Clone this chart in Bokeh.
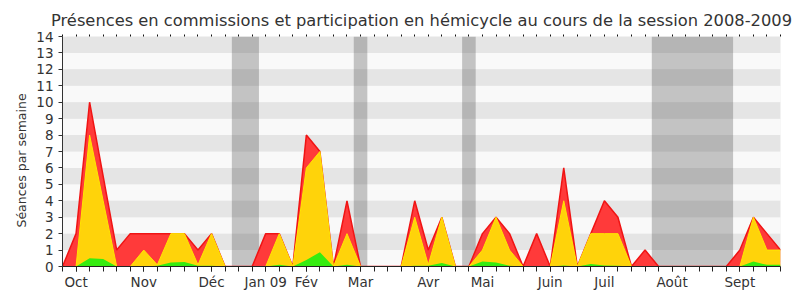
from bokeh.plotting import figure
from bokeh.models import FixedTicker, LinearAxis, BoxAnnotation, Range1d, Title
from bokeh.embed import file_html
from bokeh.resources import INLINE

# ---- data (weekly values, session 2008-2009) ----
weeks = list(range(54))
red = [0, 2, 10, 5.5, 1, 2, 2, 2, 2, 2, 1, 2, 0, 0, 0, 2, 2, 0, 8, 7,
       0, 4, 0, 0, 0, 0, 4, 1, 3, 0, 0, 2, 3, 2, 0, 2, 0, 6, 0, 2,
       4, 3, 0, 1, 0, 0, 0, 0, 0, 0, 1, 3, 2, 1]
yellow = [0, 0, 8, 4, 0, 0, 1, 0.1, 2, 2, 0.1, 2, 0, 0, 0, 0, 2, 0, 6, 7,
          0, 2, 0, 0, 0, 0, 3, 0.1, 3, 0, 0, 1, 3, 1, 0, 0, 0, 4, 0, 2,
          2, 2, 0, 0, 0, 0, 0, 0, 0, 0, 0, 3, 1, 1]
green = [0, 0, 0.5, 0.45, 0, 0, 0, 0.05, 0.25, 0.27, 0.05, 0.05, 0, 0, 0, 0, 0.1, 0, 0.4, 0.87,
         0, 0.1, 0, 0, 0, 0, 0.05, 0.05, 0.22, 0, 0, 0.3, 0.25, 0.05, 0, 0, 0, 0.06, 0, 0.15,
         0.06, 0.05, 0, 0, 0, 0, 0, 0, 0, 0, 0, 0.3, 0.1, 0.1]
month_labels = ["Oct", "Nov", "Déc", "Jan 09", "Fév", "Mar", "Avr", "Mai", "Juin", "Juil", "Août", "Sept"]
month_weeks = [1, 6, 11, 15, 18, 22, 27, 31, 36, 40, 45, 50]
vac_start = [12.5, 21.5, 29.5, 43.5]
vac_end = [14.5, 22.5, 30.5, 49.5]
y_ticks = list(range(15))

FONT = "DejaVu Sans"
TXT = "#333333"

p = figure(width=800, height=300, output_backend="svg", toolbar_location=None,
           x_range=Range1d(weeks[0], weeks[-1]), y_range=Range1d(y_ticks[0], y_ticks[-1]),
           min_border_left=62, min_border_right=20, min_border_top=36, min_border_bottom=34,
           border_fill_color="white", background_fill_color="#f9f9f9")
p.outline_line_color = None
p.grid.visible = False

# outer rounded panel
p.add_layout(BoxAnnotation(left=5, right=795, top=5, bottom=295,
                           left_units="screen", right_units="screen",
                           top_units="screen", bottom_units="screen",
                           fill_color="#efefef", fill_alpha=1.0,
                           line_color="#d8d8d8", line_width=1,
                           border_radius=9, level="image"))

# horizontal stripes
lb = y_ticks[0:-1:2]
p.quad(left=weeks[0], right=weeks[-1], bottom=lb, top=[b + 1 for b in lb],
       fill_color="#f9f9f9", line_color=None)
sb = y_ticks[1:-1:2]
p.quad(left=weeks[0], right=weeks[-1], bottom=sb, top=[b + 1 for b in sb],
       fill_color="#e5e5e5", line_color=None)

# vacation bands
p.quad(left=vac_start, right=vac_end, bottom=y_ticks[0], top=y_ticks[-1],
       fill_color="#444444", fill_alpha=0.30, line_color=None)

# areas
p.varea(x=weeks, y1=0, y2=red, fill_color="#ff3a3a")
p.line(weeks, red, line_color="#f01414", line_width=1.5)
p.varea(x=weeks, y1=0, y2=yellow, fill_color="#ffd30a")
p.line(weeks, yellow, line_color="#ffe600", line_width=1)
p.varea(x=weeks, y1=0, y2=green, fill_color="#35ec10")

# title
p.title.text = "Présences en commissions et participation en hémicycle au cours de la session 2008-2009"
p.title.align = "center"
p.title.offset = -6
p.title.text_font = FONT
p.title.text_font_size = "16.3px"
p.title.text_font_style = "normal"
p.title.text_color = TXT

# y axis
ya = p.yaxis[0]
ya.ticker = FixedTicker(ticks=y_ticks)
ya.major_label_text_font = FONT
ya.major_label_text_font_size = "13.5px"
ya.major_label_text_color = TXT
ya.major_label_standoff = 5
ya.major_tick_out = 4
ya.major_tick_in = 0
ya.minor_tick_line_color = None
ya.axis_line_color = "#333333"
ya.major_tick_line_color = "#333333"

# y axis title (as a side title so it can be shifted slightly down)
p.add_layout(Title(text="Séances par semaine", align="left", offset=39,
                   text_font=FONT, text_font_size="12.5px", text_font_style="normal",
                   text_color=TXT), "left")

# x axis: labels at month weeks, ticks at every week
xa = p.xaxis[0]
xa.ticker = FixedTicker(ticks=month_weeks, minor_ticks=weeks)
xa.major_label_overrides = {w: lab for w, lab in zip(month_weeks, month_labels)}
xa.major_label_text_font = FONT
xa.major_label_text_font_size = "13.5px"
xa.major_label_text_color = TXT
xa.major_label_standoff = 2
xa.major_tick_out = 5
xa.major_tick_in = 0
xa.minor_tick_out = 5
xa.minor_tick_in = 0
xa.axis_line_color = "#222222"
xa.major_tick_line_color = "#222222"
xa.minor_tick_line_color = "#222222"

# top ticks (every week, no labels)
ta = LinearAxis(ticker=FixedTicker(ticks=[], minor_ticks=weeks), axis_line_color=None,
                major_tick_line_color=None, minor_tick_out=2, minor_tick_in=0,
                minor_tick_line_color="#111111")
p.add_layout(ta, "above")

open("out.html", "w").write(file_html(p, INLINE))
